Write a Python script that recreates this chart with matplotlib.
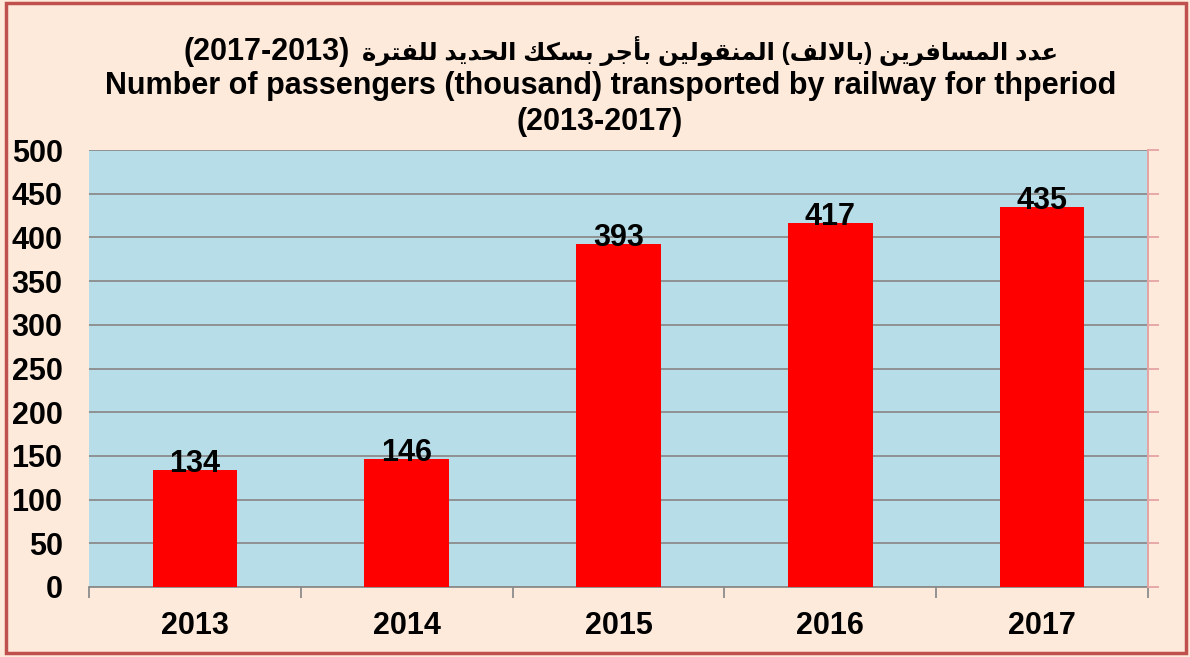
import matplotlib
matplotlib.use('Agg')
import matplotlib.pyplot as plt
from matplotlib.patches import Rectangle
from matplotlib.ticker import MultipleLocator

# data
years = ['2013', '2014', '2015', '2016', '2017']
passengers = [134, 146, 393, 417, 435]

title_ar = 'عدد المسافرين (بالالف) المنقولين بأجر بسكك الحديد للفترة'
title_ar_years = '(2017-2013)'
title_en = 'Number of passengers (thousand) transported by railway for thperiod'
title_en2 = '(2013-2017)'

# small arabic shaper (matplotlib has no shaping / bidi)
# iso, final, initial, medial
FORMS = {
    'ا': ('\uFE8D', '\uFE8E', None, None),
    'أ': ('\uFE83', '\uFE84', None, None),
    'ب': ('\uFE8F', '\uFE90', '\uFE91', '\uFE92'),
    'ة': ('\uFE93', '\uFE94', None, None),
    'ت': ('\uFE95', '\uFE96', '\uFE97', '\uFE98'),
    'ج': ('\uFE9D', '\uFE9E', '\uFE9F', '\uFEA0'),
    'ح': ('\uFEA1', '\uFEA2', '\uFEA3', '\uFEA4'),
    'د': ('\uFEA9', '\uFEAA', None, None),
    'ر': ('\uFEAD', '\uFEAE', None, None),
    'س': ('\uFEB1', '\uFEB2', '\uFEB3', '\uFEB4'),
    'ع': ('\uFEC9', '\uFECA', '\uFECB', '\uFECC'),
    'ف': ('\uFED1', '\uFED2', '\uFED3', '\uFED4'),
    'ق': ('\uFED5', '\uFED6', '\uFED7', '\uFED8'),
    'ك': ('\uFED9', '\uFEDA', '\uFEDB', '\uFEDC'),
    'ل': ('\uFEDD', '\uFEDE', '\uFEDF', '\uFEE0'),
    'م': ('\uFEE1', '\uFEE2', '\uFEE3', '\uFEE4'),
    'ن': ('\uFEE5', '\uFEE6', '\uFEE7', '\uFEE8'),
    'و': ('\uFEED', '\uFEEE', None, None),
    'ي': ('\uFEF1', '\uFEF2', '\uFEF3', '\uFEF4'),
}
LAM_ALEF = {'ا': ('\uFEFB', '\uFEFC'), 'أ': ('\uFEF7', '\uFEF8')}


def shape_word(word):
    res = []
    prev_joins = False
    i = 0
    while i < len(word):
        c = word[i]
        nxt = word[i + 1] if i + 1 < len(word) else None
        if c not in FORMS:
            res.append(c)
            prev_joins = False
            i += 1
            continue
        if c == 'ل' and nxt in LAM_ALEF:
            lig = LAM_ALEF[nxt]
            res.append(lig[1] if prev_joins else lig[0])
            prev_joins = False
            i += 2
            continue
        iso, fin, ini, med = FORMS[c]
        joins_next = ini is not None and nxt in FORMS
        if prev_joins and joins_next:
            res.append(med)
        elif prev_joins:
            res.append(fin)
        elif joins_next:
            res.append(ini)
        else:
            res.append(iso)
        prev_joins = ini is not None
        i += 1
    vis = ''.join(reversed(res))
    return vis.translate(str.maketrans('()', ')('))


def to_visual(line):
    out = []
    for tok in line.split(' '):
        if any(ch in FORMS for ch in tok):
            out.append(shape_word(tok))
        else:
            out.append(tok)
    return ' '.join(reversed(out))


fonts = ['Liberation Sans', 'DejaVu Sans']
plt.rcParams['font.family'] = fonts
plt.rcParams['font.weight'] = 'bold'

FS = 22

W, H = 1190, 657
fig = plt.figure(figsize=(W / 100, H / 100), dpi=100)
fig.patch.set_facecolor('#FDEADA')
fig.patches.append(Rectangle((6 / W, 4 / H), (W - 10) / W, (H - 7) / H,
                             transform=fig.transFigure, fill=False,
                             edgecolor='#C0504D', linewidth=2.5))

ax = fig.add_axes([89 / W, 70 / H, (1148 - 89) / W, (587 - 150) / H])
ax.set_facecolor('#B7DEE8')

x = range(len(years))
ax.bar(x, passengers, width=0.4, color='#FF0000', zorder=3)
for i, v in enumerate(passengers):
    ax.annotate(str(v), (i, v), xytext=(0, -1.5), textcoords='offset points',
                ha='center', va='baseline', fontsize=FS, fontweight='bold', zorder=4)

ax.set_xlim(-0.5, len(years) - 0.5)
ax.set_ylim(0, 500)
ax.yaxis.set_major_locator(MultipleLocator(50))
ax.grid(axis='y', color='#8C8C8C', linewidth=1.3, zorder=1)
ax.set_axisbelow(True)

ax.set_xticks(list(x))
ax.set_xticklabels(years, fontsize=FS, fontweight='bold')
ax.set_xticks([i - 0.5 for i in range(len(years) + 1)], minor=True)
ax.tick_params(axis='x', which='major', length=0, pad=17)
ax.tick_params(axis='x', which='minor', length=8, width=1.3, color='#8C8C8C')
ax.tick_params(axis='y', length=0, pad=19, labelsize=FS)
for lab in ax.get_yticklabels():
    lab.set_fontweight('bold')

for s in ['top', 'left']:
    ax.spines[s].set_visible(False)
ax.spines['bottom'].set_color('#8C8C8C')
ax.spines['bottom'].set_linewidth(1.3)
ax.spines['right'].set_color('#E6A4A4')
ax.spines['right'].set_linewidth(1.3)

# right axis ticks (no labels)
ax2 = ax.twinx()
ax2.set_ylim(0, 500)
ax2.yaxis.set_major_locator(MultipleLocator(50))
ax2.tick_params(axis='y', length=8, width=1.3, color='#E6A4A4', labelright=False)
for s in ['top', 'left', 'bottom']:
    ax2.spines[s].set_visible(False)
ax2.spines['right'].set_color('#E6A4A4')
ax2.spines['right'].set_linewidth(1.3)

# titles
fig.text(1058 / W, 1 - 60 / H, to_visual(title_ar), ha='right', va='baseline',
         fontsize=17.5, fontweight='bold', family=fonts)
fig.text(350 / W, 1 - 60 / H, title_ar_years, ha='right', va='baseline',
         fontsize=FS, fontweight='bold')
fig.text(611 / W, 1 - 94 / H, title_en, ha='center', va='baseline',
         fontsize=FS, fontweight='bold')
fig.text(600 / W, 1 - 130 / H, title_en2, ha='center', va='baseline',
         fontsize=FS, fontweight='bold')

fig.savefig('out.png', dpi=100, facecolor=fig.get_facecolor())
